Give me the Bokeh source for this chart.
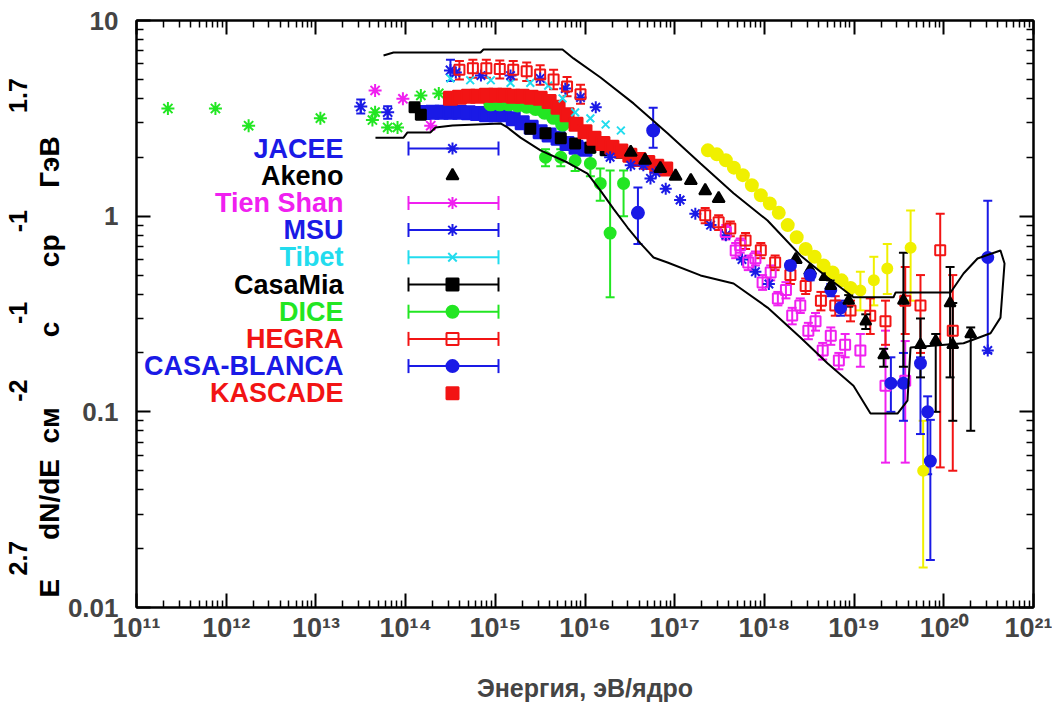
import numpy as np
from bokeh.plotting import figure
from bokeh.models import (ColumnDataSource, Whisker, TeeHead, Range1d, LinearScale,
                          LogAxis, FixedTicker, CustomJSTickFormatter, Title)
from bokeh.core.properties import value
from bokeh.embed import file_html
from bokeh.resources import INLINE

# ---------------- data: log10(E / eV) and E^2.7 dN/dE ----------------
green_lgE = [11.35, 11.88, 12.25, 13.05, 13.63, 13.66, 13.80, 13.91, 14.17, 14.37]
green_F = [3.55, 3.55, 2.90, 3.17, 3.10, 3.40, 2.84, 2.84, 4.14, 4.24]

tienshan_lgE = [13.66, 13.97, 14.28]
tienshan_F = [4.39, 3.98, 2.90]

jacee_lgE = [13.50, 13.80, 14.50]
jacee_F = [3.63, 3.40, 5.56]
jacee_lo = [3.35, 3.15, 4.90]
jacee_hi = [3.95, 3.65, 6.30]

blueband_lgE = [14.2, 14.3, 14.4, 14.5, 14.6, 14.7, 14.8, 14.9, 15.0, 15.1, 15.2, 15.3,
                15.4, 15.5, 15.6, 15.7, 15.8, 15.9, 16.0]
blueband_F = [3.39, 3.4, 3.4, 3.4, 3.4, 3.38, 3.35, 3.3, 3.3, 3.3, 3.15, 3.0,
              2.85, 2.7, 2.6, 2.5, 2.35, 2.25, 2.2]

casamia_lgE = [14.10, 14.17, 15.39, 15.56, 15.73, 15.89, 16.06, 16.23, 16.40]
casamia_F = [3.6, 3.3, 2.8, 2.65, 2.5, 2.35, 2.24, 2.17, 2.11]

greenband_lgE = [14.95, 15.05, 15.15, 15.25, 15.35, 15.45, 15.55, 15.65, 15.75]
greenband_F = [3.75, 3.75, 3.75, 3.7, 3.65, 3.55, 3.4, 3.2, 2.95]

kascade_lgE = [14.5, 14.6, 14.7, 14.8, 14.9, 15.0, 15.1, 15.2, 15.3, 15.4, 15.5, 15.6, 15.7,
               15.8, 15.9, 16.0, 16.1, 16.2, 16.3, 16.4, 16.5, 16.6, 16.7, 16.8, 16.9]
kascade_F = [4.0, 4.05, 4.1, 4.1, 4.15, 4.15, 4.15, 4.1, 4.1, 4.05, 4.0, 3.85, 3.6,
             3.3, 2.95, 2.7, 2.5, 2.35, 2.25, 2.15, 2.05, 1.95, 1.88, 1.8, 1.74]

tibet_lgE = [14.50, 14.72, 14.95, 15.17, 15.39, 15.59, 15.75, 15.89, 16.06, 16.23, 16.40]
tibet_F = [5.06, 4.95, 4.95, 4.8, 4.8, 4.65, 4.0, 3.39, 3.16, 2.94, 2.74]

msu_lgE = [14.56, 14.84, 15.17, 15.50, 15.78, 15.95, 16.12]
msu_F = [5.42, 5.23, 5.23, 5.06, 4.49, 4.04, 3.60]

hegra_lgE = [14.6, 14.75, 14.9, 15.05, 15.2, 15.35, 15.5, 15.65, 15.8, 15.95]
hegra_F = [5.6, 5.7, 5.7, 5.65, 5.6, 5.5, 5.3, 5.0, 4.6, 4.2]
hegra_lo = [5.0, 5.1, 5.1, 5.05, 5.0, 4.9, 4.7, 4.45, 4.1, 3.75]
hegra_hi = [6.2, 6.3, 6.3, 6.25, 6.2, 6.1, 5.9, 5.6, 5.15, 4.7]

dice_lgE = [15.56, 15.73, 15.89, 16.06, 16.17, 16.28, 16.43]
dice_F = [2.0, 2.0, 1.92, 1.86, 1.47, 0.82, 1.47]
dice_lo = [1.8, 1.8, 1.7, 1.6, 1.2, 0.385, 1.0]
dice_hi = [2.2, 2.2, 2.15, 2.1, 1.75, 1.71, 1.71]

cb_lgE = [16.59, 16.76]
cb_F = [1.04, 2.74]
cb_lo = [0.72, 2.24]
cb_hi = [1.40, 3.58]

bluex_lgE = [16.28, 16.51, 16.65, 16.73, 16.79, 16.90, 17.06, 17.23, 17.40, 17.57, 17.75,
             17.90, 18.05, 20.49]
bluex_F = [2.0, 1.82, 1.82, 1.56, 1.67, 1.38, 1.21, 1.03, 0.90, 0.80, 0.60, 0.52, 0.45, 0.206]

akeno_lgE = [16.51, 16.67, 16.84, 17.01, 17.18, 17.34, 17.49, 18.35, 18.51, 18.68]
akeno_F = [2.12, 1.93, 1.75, 1.60, 1.52, 1.35, 1.23, 0.60, 0.528, 0.492]

yellow_lgE = [17.37, 17.47, 17.57, 17.66, 17.76, 17.86, 17.96, 18.06, 18.16, 18.26, 18.36,
              18.46, 18.56, 18.66, 18.76, 18.86, 18.96]
yellow_F = [2.17, 2.07, 1.93, 1.77, 1.62, 1.44, 1.28, 1.16, 1.04, 0.90, 0.78,
            0.68, 0.62, 0.56, 0.515, 0.47, 0.43]
yellow_eb_lgE = [19.07, 19.22, 19.37, 19.63, 19.77]
yellow_eb_F = [0.417, 0.47, 0.54, 0.69, 0.05]
yellow_eb_lo = [0.33, 0.35, 0.40, 0.37, 0.016]
yellow_eb_hi = [0.52, 0.62, 0.72, 1.07, 0.09]

maghe_lgE = [17.57, 17.68, 17.73, 17.82, 17.90, 17.98, 18.07, 18.15, 18.24, 18.31, 18.40,
             18.49, 18.57, 18.65, 18.74, 18.83, 18.90, 19.07, 19.35, 19.57]
maghe_F = [0.83, 0.668, 0.71, 0.58, 0.61, 0.458, 0.515, 0.38, 0.42, 0.311, 0.35,
           0.26, 0.29, 0.206, 0.245, 0.183, 0.22, 0.206, 0.136, 0.144]
maghe_lo = [0.76, 0.61, 0.65, 0.53, 0.56, 0.42, 0.47, 0.35, 0.38, 0.28, 0.32,
            0.235, 0.26, 0.185, 0.22, 0.165, 0.19, 0.17, 0.055, 0.055]
maghe_hi = [0.90, 0.73, 0.77, 0.63, 0.66, 0.50, 0.56, 0.41, 0.46, 0.34, 0.38,
            0.285, 0.32, 0.225, 0.27, 0.20, 0.25, 0.25, 0.26, 0.23]

redhe_lgE = [17.34, 17.49, 17.62, 17.79, 17.96, 18.12, 18.29, 18.46, 18.63, 18.79, 18.96,
             19.18, 19.35, 19.57, 19.74, 19.96, 20.10]
redhe_F = [1.01, 0.93, 0.865, 0.75, 0.67, 0.58, 0.50, 0.44, 0.37, 0.35, 0.33,
           0.31, 0.29, 0.37, 0.35, 0.67, 0.26]
redhe_lo = [0.92, 0.85, 0.79, 0.68, 0.61, 0.53, 0.45, 0.40, 0.33, 0.31, 0.29,
            0.25, 0.22, 0.25, 0.20, 0.052, 0.05]
redhe_hi = [1.10, 1.01, 0.94, 0.82, 0.73, 0.63, 0.55, 0.48, 0.41, 0.39, 0.37,
            0.38, 0.37, 0.55, 0.50, 1.03, 0.50]

bluehe_lgE = [18.29, 18.51, 18.74, 18.85, 19.41, 19.55, 19.74, 19.82, 19.85, 20.49]
bluehe_F = [0.56, 0.50, 0.42, 0.34, 0.14, 0.14, 0.177, 0.10, 0.056, 0.615]
bluehe_lo = [0.53, 0.47, 0.39, 0.31, 0.10, 0.09, 0.077, 0.048, 0.0175, 0.20]
bluehe_hi = [0.59, 0.53, 0.45, 0.37, 0.19, 0.20, 0.19, 0.12, 0.091, 1.2]

agasa_lgE = [18.74, 18.94, 19.13, 19.33, 19.55, 19.74, 19.91, 20.07, 20.10, 20.30]
agasa_F = [0.44, 0.37, 0.29, 0.195, 0.37, 0.22, 0.23, 0.36, 0.22, 0.25]
agasa_lo = [0.41, 0.345, 0.265, 0.17, 0.17, 0.15, 0.10, 0.15, 0.09, 0.08]
agasa_hi = [0.47, 0.395, 0.315, 0.21, 0.65, 0.30, 0.25, 0.55, 0.36, 0.27]

env_lgE = [13.754, 13.865, 14.835, 14.868, 15.749, 15.872, 16.173, 16.541, 16.920, 17.288,
           17.656, 18.035, 18.402, 18.703, 18.993, 19.439, 19.462, 20.075, 20.220, 20.376,
           20.632, 20.677, 20.632, 20.521, 20.220, 19.629, 19.595, 19.484, 19.183, 18.993,
           18.703, 18.402, 18.035, 17.656, 17.288, 16.920, 16.764, 16.619, 16.474, 16.318,
           16.173, 16.028, 15.805, 15.504, 15.281, 15.136, 15.058, 14.523, 14.333, 14.278,
           14.021, 13.977, 13.664]
env_F = [6.62, 6.86, 6.86, 7.11, 7.11, 6.40, 5.11, 3.77, 2.65, 1.86, 1.31, 0.95, 0.63, 0.486,
         0.385, 0.385, 0.407, 0.407, 0.509, 0.608, 0.668, 0.573, 0.303, 0.252, 0.224, 0.213,
         0.114, 0.098, 0.098, 0.136, 0.177, 0.240, 0.341, 0.453, 0.498, 0.580, 0.615, 0.726,
         0.875, 1.09, 1.35, 1.65, 1.88, 2.17, 2.52, 2.84, 2.98, 2.91, 2.84, 2.68, 2.68, 2.52, 2.52]

legend_names = ["JACEE", "Akeno", "Tien Shan", "MSU", "Tibet", "CasaMia", "DICE",
                "HEGRA", "CASA-BLANCA", "KASCADE"]

x_tick_values = [1e11, 1e12, 1e13, 1e14, 1e15, 1e16, 1e17, 1e18, 1e19, 1e20, 1e21]
y_tick_values = [0.01, 0.1, 1.0, 10.0]

x_axis_title = "Энергия, эВ/ядро"
y_title_base = ["E", "dN/dE", "см", "с", "ср", "ГэВ"]
y_title_sup = ["2.7", "-2", "-1", "-1", "1.7"]

# ---------------- styles ----------------
FONT = "Liberation Sans"
BLUE = "#1a1ae6"
RED = "#f21414"
MAGENTA = "#f020f0"
CYAN = "#22dcee"
GREEN = "#22e622"
YELLOW = "#f0f000"
BLACK = "#000000"

legend_colors = [BLUE, BLACK, MAGENTA, BLUE, CYAN, BLACK, GREEN, RED, BLUE, RED]
legend_markers = ["asterisk", "triangle", "asterisk", "asterisk", "x", "square", "circle",
                  "square", "circle", "square"]
legend_fill = [1, 1, 1, 1, 1, 1, 1, 0, 1, 1]
legend_bar = [True, False, True, True, True, True, True, True, True, False]

x_minor = [m * t for t in x_tick_values[:-1] for m in range(2, 10)]
y_minor = [m * t for t in y_tick_values[:-1] for m in range(2, 10)]

p = figure(width=1052, height=716, x_axis_type="log", y_axis_type="log",
           x_range=Range1d(1e11, 1e21), y_range=Range1d(0.01, 10),
           output_backend="svg", toolbar_location=None,
           min_border_left=136, min_border_right=19, min_border_top=20,
           min_border_bottom=109, background_fill_color="white",
           border_fill_color="white")
p.grid.visible = False
p.outline_line_color = "black"
p.outline_line_width = 2

SUP = ("const s={'0':'\u2070','1':'\u00b9','2':'\u00b2','3':'\u00b3','4':'\u2074',"
       "'5':'\u2075','6':'\u2076','7':'\u2077','8':'\u2078','9':'\u2079','-':'\u207b'};"
       "const e=Math.round(Math.log10(tick));"
       "return '10'+String(e).split('').map(c=>s[c]).join('');")


def style_axis(ax):
    ax.axis_line_width = 2
    ax.major_tick_in = 14
    ax.major_tick_out = 0
    ax.minor_tick_in = 7
    ax.minor_tick_out = 0
    ax.major_tick_line_width = 2
    ax.minor_tick_line_width = 1.5


xa = p.below[0]
xa.ticker = FixedTicker(ticks=x_tick_values, minor_ticks=x_minor)
xa.formatter = CustomJSTickFormatter(code=SUP)
style_axis(xa)
xa.major_label_text_font = FONT
xa.major_label_text_font_style = "bold"
xa.major_label_text_font_size = "27px"
xa.major_label_standoff = 5
xa.axis_label = x_axis_title
xa.axis_label_text_font = FONT
xa.axis_label_text_font_style = "bold"
xa.axis_label_text_font_size = "25px"
xa.axis_label_standoff = 28

ya = p.left[0]
ya.ticker = FixedTicker(ticks=y_tick_values, minor_ticks=y_minor)
ya.formatter = CustomJSTickFormatter(code="return Number(tick.toPrecision(3)).toString();")
style_axis(ya)
ya.major_label_text_font = FONT
ya.major_label_text_font_style = "bold"
ya.major_label_text_font_size = "26px"
ya.major_label_standoff = 18

for loc, tv, mn in (("above", x_tick_values, x_minor), ("right", y_tick_values, y_minor)):
    ax = LogAxis(ticker=FixedTicker(ticks=tv, minor_ticks=mn),
                 formatter=CustomJSTickFormatter(code="return '';"))
    style_axis(ax)
    ax.major_label_text_font_size = "0px"
    ax.major_label_standoff = 0
    p.add_layout(ax, loc)

# y-axis title: a base-text column and a superscript column (rotated side titles)
NB = "\u00a0"
base_gaps = [5, 2, 9, 7, 6]
sup_gaps = [20, 8, 10, 14]
base_text = y_title_base[0] + "".join(NB * g + t for g, t in zip(base_gaps, y_title_base[1:]))
sup_text = y_title_sup[0] + "".join(NB * g + t for g, t in zip(sup_gaps, y_title_sup[1:]))
p.add_layout(Title(text=base_text, align="left", offset=10, standoff=0, text_font=FONT,
                   text_font_style="bold", text_font_size="28px", text_color="black"), "left")
p.add_layout(Title(text=sup_text, align="left", offset=32, standoff=0, text_font=FONT,
                   text_font_style="bold", text_font_size="25px", text_color="black"), "left")


def E(lg):
    return [10.0 ** v for v in lg]


def errbars(lg, lo, hi, color):
    src = ColumnDataSource(dict(x=E(lg), lo=lo, hi=hi))
    p.add_layout(Whisker(source=src, base="x", lower="lo", upper="hi", dimension="height",
                         line_color=color, line_width=2,
                         upper_head=TeeHead(size=9, line_color=color, line_width=2),
                         lower_head=TeeHead(size=9, line_color=color, line_width=2)))


def pts(lg, F, marker, color, size, fill=True, lw=2):
    p.scatter(E(lg), F, marker=marker, size=size, line_color=color,
              fill_color=color if fill else None, line_width=lw)


pts(green_lgE, green_F, "asterisk", GREEN, 13)
pts(tienshan_lgE, tienshan_F, "asterisk", MAGENTA, 13)
errbars(jacee_lgE, jacee_lo, jacee_hi, BLUE)
pts(jacee_lgE, jacee_F, "asterisk", BLUE, 13)
pts(blueband_lgE, blueband_F, "square", BLUE, 13)
pts(casamia_lgE, casamia_F, "square", BLACK, 10)
pts(greenband_lgE, greenband_F, "circle", GREEN, 13)
pts(kascade_lgE, kascade_F, "square", RED, 13)
pts(tibet_lgE, tibet_F, "x", CYAN, 11)
pts(msu_lgE, msu_F, "asterisk", BLUE, 12)
errbars(hegra_lgE, hegra_lo, hegra_hi, RED)
pts(hegra_lgE, hegra_F, "square", RED, 10, fill=False)
errbars(dice_lgE, dice_lo, dice_hi, GREEN)
pts(dice_lgE, dice_F, "circle", GREEN, 11)
errbars(cb_lgE, cb_lo, cb_hi, BLUE)
pts(cb_lgE, cb_F, "circle", BLUE, 12)
pts(bluex_lgE, bluex_F, "asterisk", BLUE, 12)
pts(akeno_lgE, akeno_F, "triangle", BLACK, 12)
pts(yellow_lgE, yellow_F, "circle", YELLOW, 12)
errbars(yellow_eb_lgE, yellow_eb_lo, yellow_eb_hi, YELLOW)
pts(yellow_eb_lgE, yellow_eb_F, "circle", YELLOW, 10)
errbars(maghe_lgE, maghe_lo, maghe_hi, MAGENTA)
pts(maghe_lgE, maghe_F, "square", MAGENTA, 10, fill=False)
errbars(redhe_lgE, redhe_lo, redhe_hi, RED)
pts(redhe_lgE, redhe_F, "square", RED, 10, fill=False)
errbars(bluehe_lgE, bluehe_lo, bluehe_hi, BLUE)
pts(bluehe_lgE, bluehe_F, "circle", BLUE, 11)
errbars(agasa_lgE, agasa_lo, agasa_hi, BLACK)
pts(agasa_lgE, agasa_F, "triangle", BLACK, 11)

p.line(E(env_lgE), env_F, line_color="black", line_width=2)

# ---------------- legend (pixel coordinates inside the frame) ----------------
p.extra_x_ranges = {"px": Range1d(0, 897)}
p.extra_y_ranges = {"py": Range1d(587, 0)}
p.extra_x_scales = {"px": LinearScale()}
p.extra_y_scales = {"py": LinearScale()}

LEG_TEXT_X, LEG_Y0, LEG_DY = 207, 128, 27.2
LEG_BAR_X0, LEG_BAR_X1, LEG_MARK_X, LEG_CAP = 272, 362, 316, 7
n = len(legend_names)
leg_y = [LEG_Y0 + i * LEG_DY for i in range(n)]
p.text(x=[LEG_TEXT_X] * n, y=leg_y, text=legend_names, text_color=legend_colors,
       text_align="right", text_baseline="middle", text_font=value(FONT),
       text_font_style="bold", text_font_size="27px", x_range_name="px", y_range_name="py")
bi = [i for i in range(n) if legend_bar[i]]
by = [leg_y[i] for i in bi]
bc = [legend_colors[i] for i in bi]
p.segment(x0=[LEG_BAR_X0] * len(bi), x1=[LEG_BAR_X1] * len(bi), y0=by, y1=by,
          line_color=bc, line_width=2, x_range_name="px", y_range_name="py")
for cx in (LEG_BAR_X0, LEG_BAR_X1):
    p.segment(x0=[cx] * len(bi), x1=[cx] * len(bi), y0=[y - LEG_CAP for y in by],
              y1=[y + LEG_CAP for y in by], line_color=bc, line_width=2,
              x_range_name="px", y_range_name="py")
p.scatter(x=[LEG_MARK_X] * n, y=leg_y, marker=legend_markers, size=12,
          line_color=legend_colors, fill_color=legend_colors, fill_alpha=legend_fill,
          line_width=2, x_range_name="px", y_range_name="py")

html = file_html(p, INLINE, title="Энергетический спектр")
with open("out.html", "w", encoding="utf-8") as f:
    f.write(html)
